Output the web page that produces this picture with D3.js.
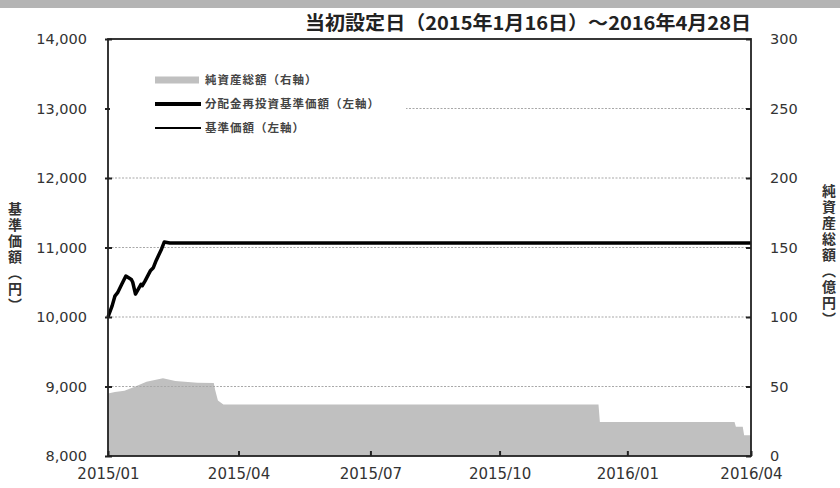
<!DOCTYPE html>
<html>
<head>
<meta charset="utf-8">
<script src="https://cdn.jsdelivr.net/npm/d3@7"></script>
<style>
  body { margin: 0; background: #fff; }
  svg { display: block; }
  .tick text { fill: #333; }
</style>
</head>
<body>
<script>
// dates / values
var navDates = ["2015-01-16","2015-01-19","2015-01-21","2015-01-23","2015-01-26","2015-01-29",
    "2015-02-02","2015-02-03","2015-02-05","2015-02-09","2015-02-10","2015-02-12","2015-02-16",
    "2015-02-18","2015-02-20","2015-02-24","2015-02-26","2015-03-02","2016-04-28"];
// 分配金再投資基準価額
var navReinvest = [10000,10160,10300,10350,10470,10590,10540,10500,10330,10470,10450,10520,10670,
    10710,10810,10980,11080,11065,11065];
// 基準価額 (no distributions, same path)
var navBase = [10000,10160,10300,10350,10470,10590,10540,10500,10330,10470,10450,10520,10670,
    10710,10810,10980,11080,11065,11065];

// 純資産総額 (億円)
var assetDates = ["2015-01-16","2015-01-21","2015-01-28","2015-02-04","2015-02-13","2015-02-25",
    "2015-03-06","2015-03-22","2015-04-03","2015-04-04","2015-04-06","2015-04-10",
    "2016-01-08","2016-01-09","2016-04-16","2016-04-17","2016-04-22","2016-04-23","2016-04-28"];
var assetValues = [45,46,47,49.6,53.5,56,54,52.7,52.5,47.5,40,37,
    37,24.5,24.5,21,21,15,15];

var leftTicks = [8000,9000,10000,11000,12000,13000,14000];
var rightTicks = [0,50,100,150,200,250,300];
var xTickDates = ["2015-01-16","2015-04-21","2015-07-26","2015-10-28","2016-01-29","2016-04-28"];

var title = "当初設定日（2015年1月16日）～2016年4月28日";
var legendLabels = ["純資産総額（右軸）","分配金再投資基準価額（左軸）","基準価額（左軸）"];
var leftTitle = "基準価額（円）";
var rightTitle = "純資産総額（億円）";

// set the dimensions and margins of the graph
var margin = {top: 39, right: 89, bottom: 32, left: 108},
    width = 840 - margin.left - margin.right,
    height = 488 - margin.top - margin.bottom;

var parseDate = d3.timeParse("%Y-%m-%d");

var nav = navDates.map(function(d, i) {
    return {date: parseDate(d), reinvest: navReinvest[i], base: navBase[i]};
});
var assets = assetDates.map(function(d, i) {
    return {date: parseDate(d), value: assetValues[i]};
});

var x = d3.scaleTime()
    .domain([parseDate("2015-01-16"), parseDate("2016-04-28")])
    .range([0, width]);
var yL = d3.scaleLinear().domain([8000, 14000]).range([height, 0]);
var yR = d3.scaleLinear().domain([0, 300]).range([height, 0]);

var root = d3.select("body").append("svg")
    .attr("width", 840)
    .attr("height", 488);

// gray strip at the top
root.append("rect")
    .attr("x", 0).attr("y", 0)
    .attr("width", 840).attr("height", 8)
    .attr("fill", "#b4b4b4");

var svg = root.append("g")
    .attr("transform", "translate(" + margin.left + "," + margin.top + ")");

var fontJP = "'Noto Sans CJK JP', sans-serif";
var fontNum = "'DejaVu Sans', sans-serif";

// area for net assets
var area = d3.area()
    .x(function(d) { return x(d.date); })
    .y0(height)
    .y1(function(d) { return yR(d.value); });

svg.append("path")
    .datum(assets)
    .attr("fill", "#c0c0c0")
    .attr("d", area);

// gridlines
svg.append("g")
    .selectAll("line")
    .data(leftTicks.slice(1, -1))
    .enter().append("line")
    .attr("x1", 0).attr("x2", width)
    .attr("y1", function(d) { return yL(d); })
    .attr("y2", function(d) { return yL(d); })
    .attr("stroke", "#a8a8a8")
    .attr("stroke-width", 1.2)
    .attr("stroke-dasharray", "2,1.5");

// lines
var lineReinvest = d3.line()
    .x(function(d) { return x(d.date); })
    .y(function(d) { return yL(d.reinvest); });
var lineBase = d3.line()
    .x(function(d) { return x(d.date); })
    .y(function(d) { return yL(d.base); });

svg.append("path")
    .datum(nav)
    .attr("fill", "none")
    .attr("stroke", "#000")
    .attr("stroke-width", 3.5)
    .attr("stroke-linejoin", "round")
    .attr("d", lineReinvest);

svg.append("path")
    .datum(nav)
    .attr("fill", "none")
    .attr("stroke", "#000")
    .attr("stroke-width", 1.5)
    .attr("d", lineBase);

// axes
var axL = svg.append("g")
    .call(d3.axisLeft(yL).tickValues(leftTicks).tickSize(-4).tickPadding(21)
        .tickFormat(d3.format(",")));
var axR = svg.append("g")
    .attr("transform", "translate(" + width + ",0)")
    .call(d3.axisRight(yR).tickValues(rightTicks).tickSize(-5).tickPadding(19));
var axB = svg.append("g")
    .attr("transform", "translate(0," + height + ")")
    .call(d3.axisBottom(x).tickValues(xTickDates.map(parseDate)).tickSize(-5).tickPadding(12)
        .tickFormat(d3.timeFormat("%Y/%m")));

[axL, axR, axB].forEach(function(a) {
    a.select(".domain").remove();
    a.selectAll(".tick line").attr("stroke", "#222").attr("stroke-width", 2);
    a.selectAll(".tick text")
        .style("font-family", fontNum)
        .style("font-size", "14.5px")
        .attr("fill", "#2a2a2a");
});
axL.selectAll(".tick line").attr("x1", -3);
axB.selectAll(".tick text").style("font-size", "15px");

// frame
svg.append("rect")
    .attr("x", 0).attr("y", 0)
    .attr("width", width).attr("height", height)
    .attr("fill", "none")
    .attr("stroke", "#222")
    .attr("stroke-width", 1.8);

// title
root.append("text")
    .attr("x", 751)
    .attr("y", 30)
    .attr("text-anchor", "end")
    .attr("textLength", 446)
    .attr("lengthAdjust", "spacingAndGlyphs")
    .style("font-family", fontJP)
    .style("font-size", "19px")
    .style("font-weight", "bold")
    .attr("fill", "#222")
    .text(title);

// legend
var legend = svg.append("g")
    .attr("transform", "translate(47,41)");

// white box behind legend hides the gridline
legend.append("rect")
    .attr("x", -45).attr("y", -18)
    .attr("width", 296).attr("height", 80)
    .attr("fill", "#fff");

legend.append("line")
    .attr("x1", 0).attr("x2", 44).attr("y1", 0).attr("y2", 0)
    .attr("stroke", "#c0c0c0").attr("stroke-width", 7);
legend.append("line")
    .attr("x1", 0).attr("x2", 46).attr("y1", 24).attr("y2", 24)
    .attr("stroke", "#000").attr("stroke-width", 4);
legend.append("line")
    .attr("x1", 0).attr("x2", 46).attr("y1", 48).attr("y2", 48)
    .attr("stroke", "#000").attr("stroke-width", 1.8);

legend.selectAll("text")
    .data(legendLabels)
    .enter().append("text")
    .attr("x", 50)
    .attr("y", function(d, i) { return i * 24 + 4; })
    .style("font-family", fontJP)
    .style("font-size", "11.5px")
    .style("font-weight", "bold")
    .style("letter-spacing", "1px")
    .attr("fill", "#444")
    .text(function(d) { return d; });

// vertical axis titles
root.append("text")
    .attr("x", 15)
    .attr("y", 202)
    .style("writing-mode", "vertical-rl")
    .style("text-orientation", "upright")
    .style("font-family", fontJP)
    .style("font-size", "14px")
    .style("font-weight", "bold")
    .style("letter-spacing", "2px")
    .attr("fill", "#333")
    .text(leftTitle);

root.append("text")
    .attr("x", 829)
    .attr("y", 184)
    .style("writing-mode", "vertical-rl")
    .style("text-orientation", "upright")
    .style("font-family", fontJP)
    .style("font-size", "14px")
    .style("font-weight", "bold")
    .style("letter-spacing", "2px")
    .attr("fill", "#333")
    .text(rightTitle);
</script>
</body>
</html>
